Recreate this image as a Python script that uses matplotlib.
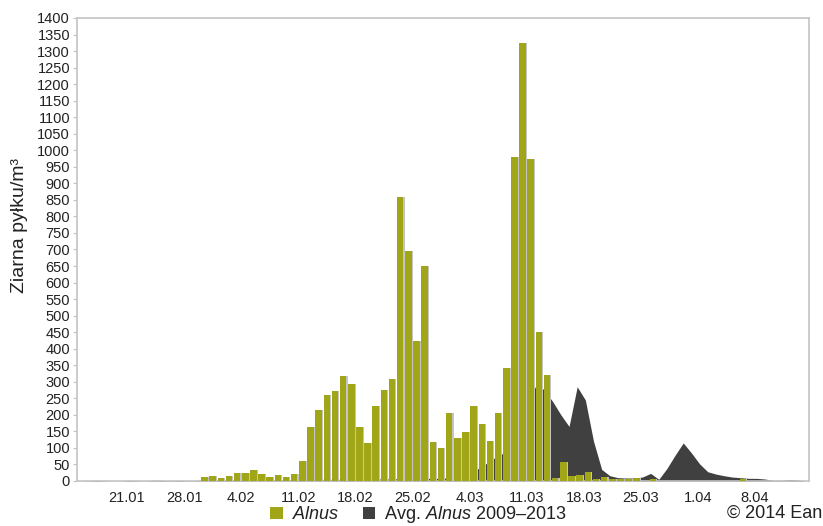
import datetime
import numpy as np
import matplotlib
matplotlib.use("Agg")
import matplotlib.pyplot as plt
from matplotlib.patches import Patch

plt.rcParams['font.family'] = ['Liberation Sans', 'DejaVu Sans']
plt.rcParams['mathtext.fontset'] = 'custom'
plt.rcParams['mathtext.rm'] = 'Liberation Sans'
plt.rcParams['mathtext.it'] = 'Liberation Sans:italic'

# ---- data ----
year = 2014
tick_labels = ['21.01', '28.01', '4.02', '11.02', '18.02', '25.02',
               '4.03', '11.03', '18.03', '25.03', '1.04', '8.04']

# daily Alnus counts, first value = 30.01
alnus_start = '30.01'
alnus = [11, 16, 8, 16, 23, 25, 32, 20, 11, 18, 12, 21, 61,
         164, 216, 260, 273, 316, 294, 162, 115, 228, 275, 309,
         860, 696, 424, 650, 118, 101, 207, 129, 149, 228, 172, 121,
         207, 341, 979, 1323, 975, 452, 321,
         10, 56, 15, 18, 28, 7, 12, 5, 5, 5, 8, 0, 5,
         0, 0, 0, 0, 0, 0, 0, 0, 0, 0, 5]

# average 2009-2013, first value = 15.01
avg_start = '15.01'
avg = [0, 1, 2, 1, 0, 0, 2, 1, 0, 2, 2, 1, 2, 1, 1, 2, 2, 2, 2, 3,
       3, 3, 3, 3, 3, 4, 4, 4, 4, 4, 5, 5, 5, 5, 5, 6, 6, 6,
       6, 7, 7, 7, 8, 8, 8, 9, 10, 14, 25, 40, 55, 72, 85, 115,
       185, 240, 292, 275, 240, 200, 165, 285, 245, 120, 35, 16, 10, 9,
       9, 12, 23, 5, 38, 78, 115, 85, 52, 28, 21, 16, 12, 10, 8, 8, 6,
       2, 2, 4, 3, 0]


def doy(lbl):
    d, m = map(int, lbl.split('.'))
    return (datetime.date(year, m, d) - datetime.date(year, 1, 1)).days


bar_x = doy(alnus_start) + np.arange(len(alnus)) + 0.5
avg_x = doy(avg_start) + np.arange(len(avg)) + 0.2
tick_x = [doy(t) for t in tick_labels]

fig = plt.figure(figsize=(8.23, 5.26), dpi=100)
ax = fig.add_axes([77 / 823, 1 - 481 / 526, (809 - 77) / 823, (481 - 18) / 526])

ax.fill_between(avg_x, avg, 0, color='#404040', lw=0, zorder=1)
ax.bar(bar_x + 0.14, alnus, width=0.8, color='#c4c4c4', lw=0, zorder=2)
ax.bar(bar_x, alnus, width=0.8, color='#a0a618', lw=0, zorder=3)

ax.set_xlim(13.87, 103.62)
ax.set_ylim(0, 1400)
ax.set_yticks(np.arange(0, 1401, 50))
ax.set_xticks(tick_x)
ax.set_xticklabels(tick_labels)

for s in ax.spines.values():
    s.set_color('#c4c4c4')
    s.set_linewidth(1.2)
ax.tick_params(axis='y', length=3, width=0.8, color='#c4c4c4', pad=2,
               labelsize=10.5, labelcolor='#222222')
ax.tick_params(axis='x', length=0, pad=7, labelsize=10.5, labelcolor='#222222')

ax.set_ylabel('Ziarna pyłku/m³', fontsize=14, color='#222222')
ax.yaxis.set_label_coords(-0.078, 0.551)
ax.yaxis.label.set_verticalalignment('center')

handles = [Patch(facecolor='#a0a618', lw=0), Patch(facecolor='#404040', lw=0)]
labels = [r'$\mathit{Alnus}$', r'Avg. $\mathit{Alnus}$ 2009–2013']
fig.legend(handles, labels, loc='center', bbox_to_anchor=(0.5085, 0.021),
           ncol=2, frameon=False, fontsize=13, handlelength=0.7,
           handleheight=0.7, handletextpad=0.5, columnspacing=1.3,
           borderpad=0, labelcolor='#222222')

fig.text(0.999, 0.024, '© 2014 Ean', ha='right', va='center', fontsize=13,
         color='#222222')

fig.savefig('out.png', dpi=100)
